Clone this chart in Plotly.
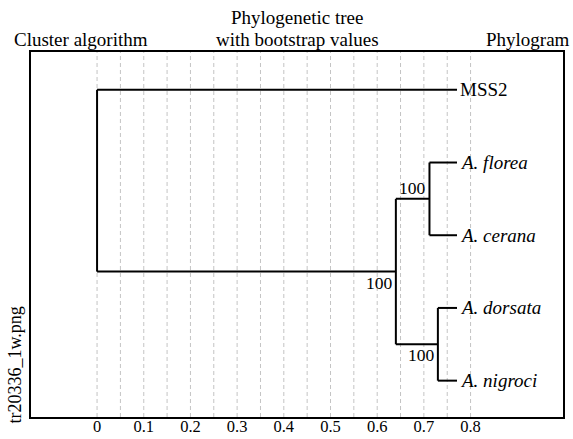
import plotly.graph_objects as go

# ---- data ----
node_names = ["root", "n1", "n2", "n3", "MSS2", "A. florea", "A. cerana", "A. dorsata", "A. nigroci"]
node_parent = [None, "root", "n1", "n1", "root", "n2", "n2", "n3", "n3"]
node_dist = [0.0, 0.64, 0.712, 0.73, 0.771, 0.771, 0.771, 0.771, 0.771]
leaf_order = ["MSS2", "A. florea", "A. cerana", "A. dorsata", "A. nigroci"]
bootstrap_nodes = ["n1", "n2", "n3"]
bootstrap_values = [100, 100, 100]
tick_vals = [0, 0.1, 0.2, 0.3, 0.4, 0.5, 0.6, 0.7, 0.8]
tick_text = ["0", "0.1", "0.2", "0.3", "0.4", "0.5", "0.6", "0.7", "0.8"]
grid_vals = [0, 0.05, 0.1, 0.15, 0.2, 0.25, 0.3, 0.35, 0.4, 0.45, 0.5, 0.55, 0.6, 0.65, 0.7, 0.75, 0.8]

# ---- layout computation ----
FONT = "Liberation Serif"
W, H = 573, 439
L, R, T, B = 31, 563, 52, 417  # plot box in window pixels
PW, PH = R - L, B - T


def px(x):
    return (x - L) / PW


def py(y):
    return (B - y) / PH


xpos = dict(zip(node_names, node_dist))
parent = dict(zip(node_names, node_parent))
children = {n: [c for c in node_names if parent[c] == n] for n in node_names}
ypos = {}
nleaf = len(leaf_order)
for i, l in enumerate(leaf_order):
    ypos[l] = nleaf - i


def get_y(n):
    if n in ypos:
        return ypos[n]
    ys = [get_y(c) for c in children[n]]
    ypos[n] = (max(ys) + min(ys)) / 2
    return ypos[n]


for n in node_names:
    get_y(n)

ex, ey = [], []
for n in node_names:
    ch = children[n]
    if ch:
        ys = [ypos[c] for c in ch]
        ex += [xpos[n], xpos[n], None]
        ey += [max(ys), min(ys), None]
    p = parent[n]
    if p is not None:
        ex += [xpos[p], xpos[n], None]
        ey += [ypos[n], ypos[n], None]

fig = go.Figure()
fig.add_trace(go.Scatter(x=ex, y=ey, mode="lines",
                         line=dict(color="black", width=2),
                         hoverinfo="skip", showlegend=False))

for g in grid_vals:
    fig.add_shape(type="line", xref="x", yref="paper", x0=g, x1=g, y0=0, y1=1,
                  line=dict(color="#c4c4c4", width=1, dash="4px,3px"), layer="below")

annotations = []
for l in leaf_order:
    txt = f"<i>{l}</i>" if l.startswith("A.") else l
    annotations.append(dict(x=xpos[l], y=ypos[l], text=txt, showarrow=False,
                            xanchor="left", yanchor="middle", xshift=1,
                            font=dict(family=FONT, size=19, color="black")))

for n, v in zip(bootstrap_nodes, bootstrap_values):
    above = ypos[n] > ypos[parent[n]]
    annotations.append(dict(x=xpos[n], y=ypos[n], text=str(v), showarrow=False,
                            xanchor="right", yanchor="bottom" if above else "top",
                            xshift=-1, yshift=-1 if above else 1,
                            font=dict(family=FONT, size=17.5, color="black")))

title_font = dict(family=FONT, size=19, color="black")
annotations += [
    dict(xref="paper", yref="paper", x=px(12), y=py(39),
         text="Cluster algorithm", showarrow=False, xanchor="left", yanchor="middle", font=title_font),
    dict(xref="paper", yref="paper", x=px(297), y=py(17),
         text="Phylogenetic tree", showarrow=False, xanchor="center", yanchor="middle", font=title_font),
    dict(xref="paper", yref="paper", x=px(297), y=py(39),
         text="with bootstrap values", showarrow=False, xanchor="center", yanchor="middle", font=title_font),
    dict(xref="paper", yref="paper", x=px(572), y=py(39),
         text="Phylogram", showarrow=False, xanchor="right", yanchor="middle", font=title_font),
    dict(xref="paper", yref="paper", x=px(14), y=py(426),
         text="tr20336_1w.png", showarrow=False, textangle=-90,
         xanchor="center", yanchor="bottom", font=dict(family=FONT, size=18, color="black")),
]

fig.update_layout(
    width=W, height=H,
    margin=dict(l=L, r=W - R, t=T, b=H - B, autoexpand=False),
    paper_bgcolor="white", plot_bgcolor="white",
    annotations=annotations,
    xaxis=dict(range=[-0.1415, 0.998], tickvals=tick_vals, ticktext=tick_text,
               showgrid=False, zeroline=False, showline=True, linecolor="black",
               linewidth=2, mirror=True, ticks="", ticklabelstandoff=-7,
               tickfont=dict(family=FONT, size=16.5, color="black")),
    yaxis=dict(range=[0.5, 5.52], showticklabels=False, showgrid=False,
               zeroline=False, showline=True, linecolor="black", linewidth=2,
               mirror=True, ticks=""),
)

fig.write_html("out.html", config={"displayModeBar": False},
               post_script="document.body.style.margin='0';document.body.style.overflow='hidden';")
